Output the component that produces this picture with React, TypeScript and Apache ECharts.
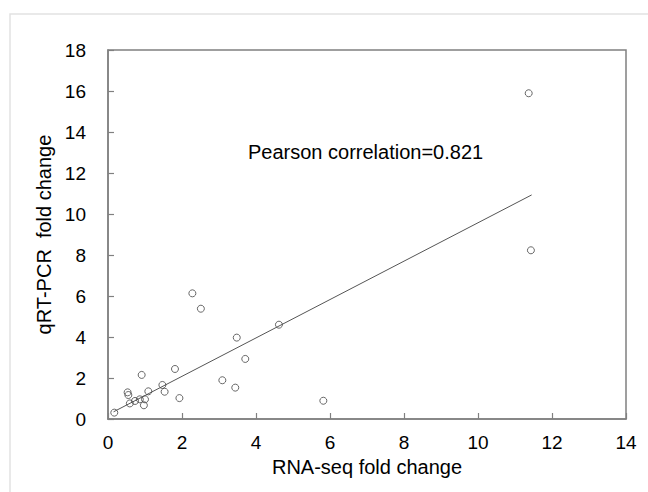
import React, { useEffect, useRef } from "react";
import * as echarts from "echarts";

const rnaSeq = [11.37, 11.43, 5.82, 2.28, 2.51, 4.62, 3.48, 3.71, 3.09, 3.44, 1.93, 1.81, 0.91, 1.47, 1.53, 1.09, 0.53, 0.55, 0.59, 0.73, 0.86, 1.0, 0.97, 0.17];
const qrtPcr = [15.89, 8.23, 0.89, 6.13, 5.38, 4.6, 3.97, 2.93, 1.89, 1.53, 1.02, 2.44, 2.15, 1.66, 1.33, 1.35, 1.3, 1.17, 0.76, 0.88, 0.96, 0.96, 0.67, 0.31];
const fitX = [0.15, 11.45];
const fitY = [0.35, 10.93];
const xTicks = [0, 2, 4, 6, 8, 10, 12, 14];
const yTicks = [0, 2, 4, 6, 8, 10, 12, 14, 16, 18];
const annotation = "Pearson correlation=0.821";
const xTitle = "RNA-seq fold change";
const yTitle = "qRT-PCR  fold change";

export default function App() {
  const ref = useRef<HTMLDivElement>(null);
  useEffect(() => {
    if (!ref.current) return;
    const chart = echarts.init(ref.current, undefined, { renderer: "svg" });
    const font = "'Liberation Sans', Arial, sans-serif";
    const axisColor = "#808080";
    chart.setOption({
      animation: false,
      backgroundColor: "#fff",
      textStyle: { fontFamily: font },
      grid: {
        left: 108,
        top: 50,
        right: 22,
        bottom: 73,
        show: true,
        borderColor: axisColor,
        borderWidth: 1.5,
      },
      xAxis: {
        type: "value",
        min: xTicks[0],
        max: xTicks[xTicks.length - 1],
        interval: 2,
        name: xTitle,
        nameLocation: "middle",
        nameGap: 38,
        nameTextStyle: { color: "#000", fontSize: 20, fontFamily: font },
        axisLine: { show: true, lineStyle: { color: axisColor, width: 1.5 } },
        axisTick: { show: true, inside: true, length: 6, lineStyle: { color: axisColor, width: 1.2 } },
        axisLabel: { color: "#000", fontSize: 19, margin: 14, fontFamily: font },
        splitLine: { show: false },
      },
      yAxis: {
        type: "value",
        min: yTicks[0],
        max: yTicks[yTicks.length - 1],
        interval: 2,
        name: yTitle,
        nameLocation: "middle",
        nameGap: 46,
        nameTextStyle: { color: "#000", fontSize: 20, fontFamily: font },
        axisLine: { show: true, lineStyle: { color: axisColor, width: 1.5 } },
        axisTick: { show: true, inside: true, length: 6, lineStyle: { color: axisColor, width: 1.2 } },
        axisLabel: { color: "#000", fontSize: 19, margin: 22, fontFamily: font },
        splitLine: { show: false },
      },
      graphic: [
        {
          type: "rect",
          shape: { x: 10, y: 14, width: 800, height: 600 },
          style: { fill: "none", stroke: "#e2e2e2", lineWidth: 1.5 },
          silent: true,
          z: -10,
        },
        {
          type: "text",
          left: 248,
          top: 142,
          style: { text: annotation, fill: "#000", fontSize: 20, fontFamily: font },
        },
      ],
      series: [
        {
          type: "line",
          data: fitX.map((x, i) => [x, fitY[i]]),
          symbol: "none",
          lineStyle: { color: "#555", width: 1 },
          z: 1,
        },
        {
          type: "scatter",
          data: rnaSeq.map((x, i) => [x, qrtPcr[i]]),
          symbol: "circle",
          symbolSize: 7,
          itemStyle: { color: "transparent", borderColor: "#444", borderWidth: 1 },
          z: 2,
        },
      ],
    });
    return () => chart.dispose();
  }, []);
  return <div ref={ref} style={{ position: "fixed", left: 0, top: 0, width: 648, height: 492 }} />;
}
